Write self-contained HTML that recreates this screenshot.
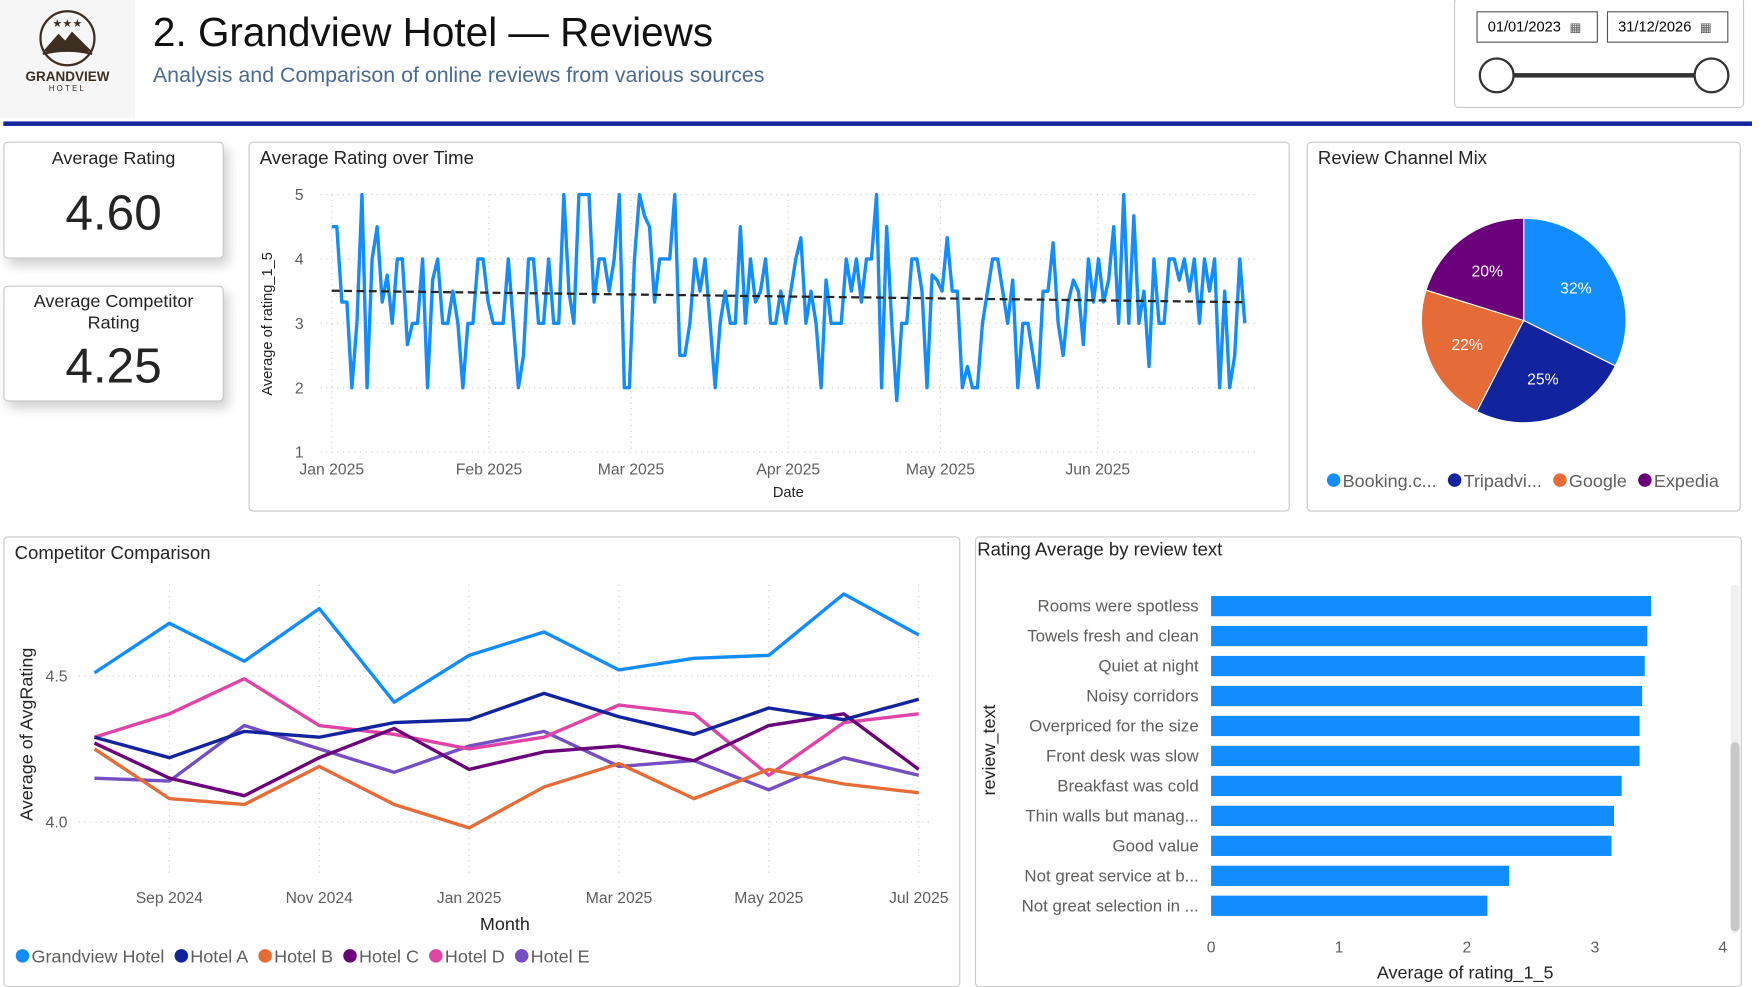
<!DOCTYPE html>
<html><head><meta charset="utf-8"><style>
body{margin:0;width:1762px;height:985px;background:#fff;font-family:"Liberation Sans",sans-serif;position:relative;overflow:hidden}
#root{position:absolute;left:0;top:0;width:1558px;height:871px;transform:scale(1.1245);transform-origin:0 0}
.panel{position:absolute;background:#fff;border:1px solid #c8c8c8;border-radius:4px;box-sizing:border-box}
.card{box-shadow:4px 6px 10px rgba(0,0,0,0.18)}
.ptitle{position:absolute;left:9px;top:5px;font-size:16.5px;color:#252423}
svg text{font-family:"Liberation Sans",sans-serif}
</style></head><body>
<div id="root">
<div style="position:absolute;left:0;top:0;width:1558px;height:110px">
 <div style="position:absolute;left:0;top:0;width:120px;height:105px;background:#f6f6f6">
  <svg width="120" height="105">
   <circle cx="60" cy="34" r="24" fill="none" stroke="#3d2e22" stroke-width="2"/>
   <text x="60" y="24" font-size="10" text-anchor="middle" fill="#3d2e22">★★★</text>
   <path d="M38 46 L52 30 L58 36 L64 28 L82 46 Z" fill="#3d2e22"/>
   <path d="M38 48 Q60 42 82 48" stroke="#3d2e22" stroke-width="2" fill="none"/>
   <text x="60" y="72" font-size="12" text-anchor="middle" fill="#3d2e22" font-family="Liberation Serif" font-weight="bold">GRANDVIEW</text>
   <text x="60" y="81" font-size="7" text-anchor="middle" fill="#3d2e22" letter-spacing="2">HOTEL</text>
  </svg>
 </div>
 <div style="position:absolute;left:136px;top:8px;font-size:36px;color:#111">2. Grandview Hotel — Reviews</div>
 <div style="position:absolute;left:136px;top:57px;font-size:19px;color:#4a6a8f">Analysis and Comparison of online reviews from various sources</div>
 <div style="position:absolute;left:1293px;top:-2px;width:258px;height:98px;border:1px solid #c8c8c8;border-radius:4px;box-sizing:border-box;background:#fff">
  <div style="position:absolute;left:19px;top:11px;width:108px;height:28px;border:1px solid #555;box-sizing:border-box;font-size:13px;line-height:26px;padding-left:9px">01/01/2023 <span style="font-size:11px;color:#555;margin-left:4px">▦</span></div>
  <div style="position:absolute;left:135px;top:11px;width:108px;height:28px;border:1px solid #555;box-sizing:border-box;font-size:13px;line-height:26px;padding-left:9px">31/12/2026 <span style="font-size:11px;color:#555;margin-left:4px">▦</span></div>
  <div style="position:absolute;left:37px;top:66px;width:192px;height:4px;background:#333"></div>
  <div style="position:absolute;left:21px;top:52px;width:32px;height:32px;border:2px solid #333;border-radius:50%;background:#fff;box-sizing:border-box"></div>
  <div style="position:absolute;left:212px;top:52px;width:32px;height:32px;border:2px solid #333;border-radius:50%;background:#fff;box-sizing:border-box"></div>
 </div>
 <div style="position:absolute;left:3px;top:108px;width:1555px;height:4px;background:#12239E"></div>
</div>

<div class="panel card" style="left:3px;top:126px;width:196px;height:104px">
 <div style="position:absolute;width:100%;top:6px;text-align:center;font-size:16px;color:#252423">Average Rating</div>
 <div style="position:absolute;width:100%;top:38px;text-align:center;font-size:44px;color:#252423">4.60</div>
</div>
<div class="panel card" style="left:3px;top:254px;width:196px;height:103px">
 <div style="position:absolute;width:100%;top:4px;text-align:center;font-size:16px;line-height:19px;color:#252423">Average Competitor<br>Rating</div>
 <div style="position:absolute;width:100%;top:46px;text-align:center;font-size:44px;color:#252423">4.25</div>
</div>

<div class="panel" style="left:221px;top:126px;width:926px;height:329px">
 <div class="ptitle">Average Rating over Time</div>
</div>
<svg id="ts" style="position:absolute;left:0;top:0" width="1558" height="871"></svg>

<div class="panel" style="left:1162px;top:126px;width:386px;height:329px">
 <div class="ptitle">Review Channel Mix</div>
</div>
<div class="panel" style="left:3px;top:477px;width:851px;height:401px">
 <div class="ptitle">Competitor Comparison</div>
</div>
<div class="panel" style="left:867px;top:477px;width:682px;height:401px">
 <div class="ptitle" style="left:1px;top:2px">Rating Average by review text</div>
 <div style="position:absolute;left:671px;top:42px;width:8px;height:310px;background:#f0f0f0;border-radius:4px"></div>
 <div style="position:absolute;left:671px;top:182px;width:8px;height:168px;background:#c8c8c8;border-radius:4px"></div>
</div>
<svg id="ov" style="position:absolute;left:0;top:0" width="1558" height="875"></svg>
</div>

<script>
// ---- Time series data ----
const tsValues=[4.5,4.5,3.33,3.33,2,3,5,2,4,4.5,3.33,3.75,3,4,4,2.67,3,3,4,2,3.67,4,3,3,3.5,3,2,3,3,4,4,3.33,3,3,3,4,3,2,2.5,4,4,3,3,4,3,3,5,3.5,3,5,5,5,3.33,4,4,3.5,4,5,2,2,4,5,4.67,4.5,3.33,4,4,4,5,2.5,2.5,3,4,3.5,4,3,2,3,3.5,3,3,4.5,3,4,3.33,3.5,4,3,3,3.5,3,3.5,4,4.33,3,3.5,3,2,3.67,3,3,3,4,3.5,4,3.33,4,4,5,2,4.5,3,1.8,3,3,4,4,3.5,2,3.75,3.67,3.5,4.33,3.5,3.5,2,2.33,2,2,3,3.5,4,4,3.5,3,3.67,2,3,3,2.5,2,3.5,3.5,4.25,3,2.5,3.33,3.67,3.5,2.67,4,3.33,4,3.33,3.67,4.5,3,5,3,4.67,3,3.5,2.33,4,3,3,4,4,3.67,4,3.5,4,3,4,3.5,4,2,3.5,2,2.5,4,3];
const tsYTicks=[1,2,3,4,5];
const tsMonthLabels=["Jan 2025","Feb 2025","Mar 2025","Apr 2025","May 2025","Jun 2025"];
const tsMonthDays=[0,31,59,90,120,151];
// ---- Pie data ----
const pieLabels=["Booking.c...","Tripadvi...","Google","Expedia"];
const pieValues=[32,25,22,20];
// ---- Competitor data ----
const compMonths=["Aug 2024","Sep 2024","Oct 2024","Nov 2024","Dec 2024","Jan 2025","Feb 2025","Mar 2025","Apr 2025","May 2025","Jun 2025","Jul 2025"];
const compTickLabels=["Sep 2024","Nov 2024","Jan 2025","Mar 2025","May 2025","Jul 2025"];
const compNames=["Grandview Hotel","Hotel A","Hotel B","Hotel C","Hotel D","Hotel E"];
const grandview=[4.51,4.68,4.55,4.73,4.41,4.57,4.65,4.52,4.56,4.57,4.78,4.64];
const hotelA=[4.29,4.22,4.31,4.29,4.34,4.35,4.44,4.36,4.30,4.39,4.35,4.42];
const hotelB=[4.25,4.08,4.06,4.19,4.06,3.98,4.12,4.20,4.08,4.18,4.13,4.10];
const hotelC=[4.27,4.15,4.09,4.22,4.32,4.18,4.24,4.26,4.21,4.33,4.37,4.18];
const hotelD=[4.29,4.37,4.49,4.33,4.30,4.25,4.29,4.40,4.37,4.16,4.34,4.37];
const hotelE=[4.15,4.14,4.33,4.25,4.17,4.26,4.31,4.19,4.21,4.11,4.22,4.16];
const compYTicks=[4.0,4.5];
// ---- Bar data ----
const barLabels=["Rooms were spotless","Towels fresh and clean","Quiet at night","Noisy corridors","Overpriced for the size","Front desk was slow","Breakfast was cold","Thin walls but manag...","Good value","Not great service at b...","Not great selection in ..."];
const barValues=[3.44,3.41,3.39,3.37,3.35,3.35,3.21,3.15,3.13,2.33,2.16];
const barXTicks=[0,1,2,3,4];

const NS="http://www.w3.org/2000/svg";
function mk(parent,tag,attrs,text){const e=document.createElementNS(NS,tag);for(const k in attrs)e.setAttribute(k,attrs[k]);if(text!==undefined)e.textContent=text;parent.appendChild(e);return e;}
const ts=document.getElementById('ts');
const ov=document.getElementById('ov');

const tsN=tsValues.length;
const tsX=d=>295+d*(1107-295)/180;
const tsIdxX=i=>tsX(i*180/(tsN-1));
const tsY=v=>402-(v-1)*(402-173)/4;
tsYTicks.forEach(t=>{
 let l=mk(ts,'line',{x1:285,x2:1117,y1:tsY(t),y2:tsY(t),stroke:'#c8c8c8','stroke-dasharray':'1 4'});
 
 
 let tx=mk(ts,'text',{x:270,y:tsY(t)+5,'font-size':14,fill:'#605e5c','text-anchor':'end'},t);
 
 
});
tsMonthDays.forEach((d,i)=>{
 let l=mk(ts,'line',{x1:tsX(d),x2:tsX(d),y1:173,y2:402,stroke:'#c8c8c8','stroke-dasharray':'1 4'});
 
 
 let tx=mk(ts,'text',{x:tsX(d),y:422,'font-size':14,fill:'#605e5c','text-anchor':'middle'},tsMonthLabels[i]);
 
 
});
let tsxt=mk(ts,'text',{x:701,y:442,'font-size':13,fill:'#252423','text-anchor':'middle'},'Date');


let tsyt=mk(ts,'text',{x:0,y:0,'font-size':13,fill:'#252423','text-anchor':'middle',transform:'translate(242,288) rotate(-90)'},'Average of rating_1_5');


let pts=tsValues.map((v,i)=>tsIdxX(i).toFixed(1)+','+tsY(v).toFixed(1)).join(' ');
let tl=mk(ts,'polyline',{points:pts,fill:'none',stroke:'#118DFF','stroke-width':3,'stroke-linejoin':'round'});


let mx=(tsN-1)/2,my=tsValues.reduce((a,b)=>a+b,0)/tsN,sxy=0,sxx=0;
tsValues.forEach((v,i)=>{sxy+=(i-mx)*(v-my);sxx+=(i-mx)*(i-mx);});
const slope=sxy/sxx,icp=my-slope*mx;
let tr=mk(ts,'line',{x1:tsIdxX(0),y1:tsY(icp),x2:tsIdxX(tsN-1),y2:tsY(icp+slope*(tsN-1)),stroke:'#252423','stroke-width':2,'stroke-dasharray':'7 4'});



const pieColors=['#118DFF','#12239E','#E66C37','#6B007B'];
const cx=1355,cy=285,r=91;
const tot=pieValues.reduce((a,b)=>a+b,0);
let a0=-Math.PI/2;
pieValues.forEach((v,i)=>{
 const a1=a0+v/tot*2*Math.PI;
 const large=(a1-a0)>Math.PI?1:0;
 const d=`M${cx},${cy} L${cx+r*Math.cos(a0)},${cy+r*Math.sin(a0)} A${r},${r} 0 ${large} 1 ${cx+r*Math.cos(a1)},${cy+r*Math.sin(a1)} Z`;
 let p=mk(ov,'path',{d:d,fill:pieColors[i],stroke:'#fff','stroke-width':1});
 
 
 const am=(a0+a1)/2;
 let t=mk(ov,'text',{x:cx+r*0.6*Math.cos(am),y:cy+r*0.6*Math.sin(am)+5,'font-size':14,fill:'#fff','text-anchor':'middle'},v+'%');
 
 
 a0=a1;
});
let lx=1180;
pieLabels.forEach((l,i)=>{
 let c=mk(ov,'circle',{cx:lx+6,cy:427,r:6,fill:pieColors[i]});
 
 
 let t=mk(ov,'text',{x:lx+14,y:433,'font-size':16,fill:'#605e5c'},l);
 
 
 lx+=14+t.getComputedTextLength()+10;
});

const cX=i=>84+i*(817-84)/11;
const cY=v=>731-(v-4.0)*260;
compYTicks.forEach(t=>{
 let l=mk(ov,'line',{x1:70,x2:830,y1:cY(t),y2:cY(t),stroke:'#c8c8c8','stroke-dasharray':'1 4'});
 
 
 let tx=mk(ov,'text',{x:60,y:cY(t)+5,'font-size':14,fill:'#605e5c','text-anchor':'end'},t.toFixed(1));
 
 
});
compTickLabels.forEach(lab=>{
 const i=compMonths.indexOf(lab);
 let l=mk(ov,'line',{x1:cX(i),x2:cX(i),y1:520,y2:780,stroke:'#c8c8c8','stroke-dasharray':'1 4'});
 
 
 let tx=mk(ov,'text',{x:cX(i),y:803,'font-size':14,fill:'#605e5c','text-anchor':'middle'},lab);
 
 
});
let cxt=mk(ov,'text',{x:449,y:827,'font-size':16,fill:'#252423','text-anchor':'middle'},'Month');


let cyt=mk(ov,'text',{x:0,y:0,'font-size':16,fill:'#252423','text-anchor':'middle',transform:'translate(29,653) rotate(-90)'},'Average of AvgRating');


const compSeries=[grandview,hotelA,hotelB,hotelC,hotelD,hotelE];
const compColors=['#118DFF','#12239E','#E66C37','#6B007B','#E044A7','#744EC2'];
[5,4,3,2,1,0].forEach(s=>{
 let p=mk(ov,'polyline',{points:compSeries[s].map((v,i)=>cX(i)+','+cY(v)).join(' '),fill:'none',stroke:compColors[s],'stroke-width':3,'stroke-linejoin':'round'});
 
 
});
let clx=14;
compNames.forEach((n,i)=>{
 let c=mk(ov,'circle',{cx:clx+6,cy:850,r:6,fill:compColors[i]});
 
 
 let t=mk(ov,'text',{x:clx+14,y:856,'font-size':16,fill:'#605e5c'},n);
 
 
 clx+=14+t.getComputedTextLength()+9;
});

const bX=v=>1077+v*(1532-1077)/4;
const bY=i=>539+i*26.65;
barXTicks.forEach(t=>{
 let tx=mk(ov,'text',{x:bX(t),y:847,'font-size':14,fill:'#605e5c','text-anchor':'middle'},t);
 
 
});
barValues.forEach((v,i)=>{
 let b=mk(ov,'rect',{x:bX(0),y:bY(i)-9,width:bX(v)-bX(0),height:18,fill:'#118DFF'});
 
 
 let t=mk(ov,'text',{x:1066,y:bY(i)+5,'font-size':15,fill:'#605e5c','text-anchor':'end'},barLabels[i]);
 
 
});
let bxt=mk(ov,'text',{x:1303,y:870,'font-size':16,fill:'#252423','text-anchor':'middle'},'Average of rating_1_5');


let byt=mk(ov,'text',{x:0,y:0,'font-size':16,fill:'#252423','text-anchor':'middle',transform:'translate(885,667) rotate(-90)'},'review_text');


</script>
</body></html>
